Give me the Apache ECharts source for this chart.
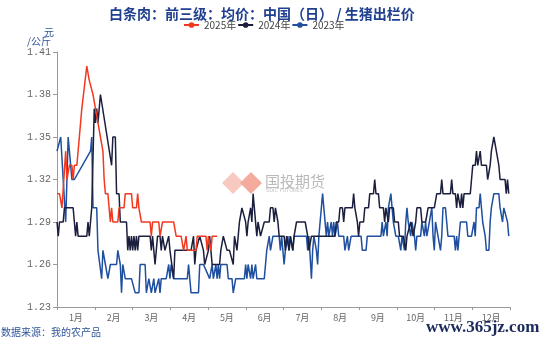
<!DOCTYPE html>
<html><head><meta charset="utf-8">
<script src="https://cdn.jsdelivr.net/npm/echarts@6/dist/echarts.min.js"></script>
<style>html,body{margin:0;padding:0;background:#fff}#c{width:550px;height:344px}</style>
</head><body><div id="c"></div>
<script>
const months = ['1月','2月','3月','4月','5月','6月','7月','8月','9月','10月','11月','12月'];
const yMin = 1.23, yMax = 1.41, yStep = 0.03;
const seriesNames = ['2025年','2024年','2023年'];

// day of year (0 = Jan 1) and price for each year
const days2025 = [0,2,4,7,8,10,12,13,14,16,20,21,24,26,29,31,33,35,37,38,39,41,42,43,44,45,49,50,54,55,60,61,64,65,66,67,68,75,76,77,82,83,84,85,94,96,100,102,104,105,112,113,120,121,122,124,125,129];
const vals2025 = [1.31,1.31,1.30,1.34,1.32,1.33,1.33,1.32,1.33,1.33,1.37,1.37,1.40,1.39,1.38,1.37,1.36,1.35,1.34,1.32,1.31,1.31,1.30,1.29,1.30,1.29,1.29,1.30,1.30,1.31,1.31,1.30,1.30,1.31,1.30,1.30,1.29,1.29,1.28,1.29,1.29,1.28,1.28,1.29,1.29,1.28,1.28,1.27,1.28,1.27,1.27,1.28,1.28,1.27,1.28,1.27,1.28,1.28];

const days2024 = [0,1,2,5,6,13,14,15,16,17,24,25,26,27,28,30,31,32,33,35,44,45,47,48,50,51,56,57,58,59,60,61,62,63,64,65,66,75,76,77,79,80,81,83,84,85,87,88,90,91,92,94,95,108,110,111,112,115,118,119,122,123,125,131,132,134,135,137,139,142,143,145,146,147,149,150,152,153,154,156,157,158,159,161,162,164,165,167,171,172,174,175,176,178,179,183,184,185,187,188,190,191,193,200,202,203,205,224,225,227,228,230,231,232,238,239,240,242,243,244,247,248,251,252,255,256,257,259,260,263,264,265,267,268,271,272,275,276,279,281,282,283,285,287,289,290,293,294,297,299,304,306,309,310,311,317,318,319,321,322,323,325,326,327,328,333,334,335,337,338,339,341,342,346,347,349,350,352,353,354,356,357,361,362,363,364];
const vals2024 = [1.29,1.28,1.29,1.29,1.30,1.30,1.29,1.28,1.29,1.28,1.28,1.29,1.28,1.29,1.30,1.37,1.36,1.37,1.36,1.38,1.33,1.35,1.35,1.31,1.31,1.29,1.29,1.27,1.28,1.27,1.28,1.27,1.28,1.27,1.28,1.27,1.28,1.28,1.27,1.28,1.26,1.27,1.28,1.28,1.27,1.28,1.27,1.27,1.28,1.27,1.27,1.25,1.27,1.27,1.28,1.26,1.27,1.28,1.27,1.26,1.27,1.28,1.26,1.26,1.27,1.28,1.28,1.27,1.27,1.26,1.28,1.27,1.28,1.29,1.30,1.30,1.29,1.28,1.29,1.30,1.29,1.31,1.30,1.28,1.29,1.28,1.28,1.29,1.29,1.30,1.30,1.29,1.30,1.29,1.28,1.28,1.27,1.28,1.27,1.28,1.27,1.28,1.29,1.29,1.28,1.27,1.28,1.28,1.29,1.29,1.30,1.30,1.29,1.30,1.30,1.31,1.30,1.29,1.28,1.29,1.29,1.30,1.30,1.31,1.31,1.32,1.31,1.31,1.30,1.30,1.29,1.30,1.29,1.30,1.30,1.29,1.29,1.28,1.28,1.27,1.28,1.28,1.29,1.28,1.29,1.30,1.30,1.29,1.29,1.30,1.30,1.31,1.31,1.32,1.31,1.31,1.32,1.31,1.31,1.30,1.31,1.30,1.31,1.30,1.31,1.31,1.32,1.33,1.33,1.34,1.33,1.34,1.33,1.33,1.32,1.33,1.34,1.35,1.35,1.34,1.33,1.32,1.32,1.31,1.32,1.31];

const days2023 = [0,3,5,7,9,11,12,14,27,28,29,32,33,36,37,39,41,43,48,49,51,52,53,55,60,63,66,67,71,72,74,75,76,78,79,80,82,83,84,88,90,91,92,94,105,106,107,108,114,115,118,123,125,126,128,129,130,131,132,137,138,141,142,144,148,151,152,153,154,156,157,158,160,161,167,168,169,171,172,174,179,180,181,183,184,186,187,188,190,191,201,202,203,205,206,207,209,210,211,213,214,215,217,218,219,221,222,223,224,226,227,231,232,234,235,237,245,246,249,250,261,262,263,265,266,267,269,270,271,273,275,277,278,280,281,282,283,285,286,288,289,290,293,294,296,297,298,300,302,303,304,305,306,307,309,310,311,313,314,315,320,321,322,323,325,330,331,334,336,337,338,340,341,342,343,345,346,348,349,350,352,356,357,359,360,361,363,364];
const vals2023 = [1.34,1.35,1.32,1.29,1.35,1.33,1.32,1.32,1.34,1.35,1.30,1.30,1.27,1.25,1.27,1.26,1.25,1.26,1.26,1.27,1.26,1.24,1.26,1.25,1.25,1.24,1.24,1.26,1.26,1.24,1.25,1.25,1.24,1.25,1.24,1.24,1.25,1.24,1.25,1.25,1.26,1.25,1.26,1.25,1.25,1.26,1.26,1.24,1.24,1.26,1.26,1.25,1.26,1.25,1.26,1.25,1.26,1.25,1.26,1.26,1.25,1.25,1.24,1.25,1.25,1.25,1.26,1.25,1.26,1.25,1.26,1.25,1.26,1.25,1.25,1.26,1.27,1.28,1.27,1.28,1.28,1.27,1.28,1.26,1.27,1.28,1.27,1.28,1.27,1.28,1.28,1.27,1.28,1.25,1.27,1.28,1.27,1.26,1.28,1.30,1.31,1.30,1.28,1.29,1.28,1.29,1.28,1.29,1.28,1.29,1.28,1.28,1.27,1.28,1.27,1.28,1.28,1.27,1.27,1.28,1.28,1.29,1.28,1.29,1.28,1.30,1.31,1.30,1.29,1.28,1.28,1.27,1.28,1.27,1.29,1.30,1.29,1.28,1.29,1.28,1.27,1.28,1.28,1.29,1.28,1.29,1.28,1.29,1.30,1.28,1.27,1.29,1.29,1.28,1.27,1.28,1.30,1.30,1.29,1.28,1.28,1.27,1.28,1.27,1.29,1.29,1.28,1.28,1.29,1.28,1.30,1.30,1.31,1.30,1.29,1.28,1.27,1.27,1.29,1.30,1.31,1.31,1.30,1.29,1.30,1.30,1.29,1.28];

const colors = ['#f2391f', '#1b1f3d', '#1f4f9f'];
const pair = (ds, vs) => ds.map((d, i) => [d, vs[i]]);

const chart = echarts.init(document.getElementById('c'), null, {renderer: 'canvas'});
const mkSeries = (name, ds, vs, color, z) => ({
  name, type: 'line', xAxisIndex: 1, data: pair(ds, vs),
  symbol: 'circle', symbolSize: 7, showSymbol: false, z,
  lineStyle: {color, width: 1.5}, itemStyle: {color}
});
chart.setOption({
  animation: false,
  backgroundColor: '#fff',
  title: {
    text: '白条肉：前三级：均价：中国（日） / 生猪出栏价',
    left: 104, top: 2,
    textStyle: {color: '#1f3f8f', fontSize: 14, fontWeight: 'bold', fontFamily: 'Noto Sans CJK SC'}
  },
  legend: {
    left: 183, top: 20, itemWidth: 15, itemHeight: 7, itemGap: 1, padding: 0,
    textStyle: {color: '#444', fontSize: 10, fontFamily: 'Noto Sans CJK SC'},
    data: seriesNames
  },
  grid: {left: 57, right: 40, top: 52, bottom: 37},
  xAxis: [
    {type: 'category', data: months, boundaryGap: true,
     axisLine: {lineStyle: {color: '#999'}},
     axisTick: {show: true, length: 3, lineStyle: {color: '#999'}},
     axisLabel: {color: '#666', fontSize: 9, margin: 6, fontFamily: 'Noto Sans CJK SC'},
     splitLine: {show: false}},
    {type: 'value', min: 0, max: 365, show: false}
  ],
  yAxis: {
    type: 'value', min: yMin, max: yMax, interval: yStep,
    axisLine: {show: true, lineStyle: {color: '#999'}},
    axisTick: {show: true, length: 4, lineStyle: {color: '#999'}},
    splitLine: {show: false},
    axisLabel: {color: '#666', fontSize: 10, margin: 6, fontFamily: 'Liberation Mono',
      formatter: v => v.toFixed(2)}
  },
  graphic: [
    {type: 'text', left: 44, top: 27, style: {text: '元', fill: '#2f5597', font: '10px "Noto Sans CJK SC"'}},
    {type: 'text', left: 27, top: 36, style: {text: '/公斤', fill: '#2f5597', font: '10px "Noto Sans CJK SC"'}},
    {type: 'text', left: 1, top: 327, style: {text: '数据来源：我的农产品', fill: '#2f5597', font: '10px "Noto Sans CJK SC"'}},
    {type: 'text', left: 426, top: 319, style: {text: 'www.365jz.com', fill: '#1c2a5c', font: 'bold 17px "Liberation Serif"'}},
    {type: 'polygon', z: -1, shape: {points: [[222,183],[233,172],[244,183],[233,194]]}, style: {fill: '#f7c9c0'}},
    {type: 'polygon', z: -1, shape: {points: [[240,183],[251,172],[262,183],[251,194]]}, style: {fill: '#f3ab9e'}},
    {type: 'text', z: -1, left: 265, top: 174, style: {text: '国投期货', fill: '#b9b9b9', font: '15px "Noto Sans CJK SC"'}},
    {type: 'text', z: -1, left: 266, top: 188, style: {text: 'SDIC FUTURES', fill: '#c4c4c4', font: '5px "DejaVu Sans"'}}
  ],
  series: [
    mkSeries(seriesNames[2], days2023, vals2023, colors[2], 2),
    mkSeries(seriesNames[1], days2024, vals2024, colors[1], 3),
    mkSeries(seriesNames[0], days2025, vals2025, colors[0], 4)
  ]
});
</script></body></html>
